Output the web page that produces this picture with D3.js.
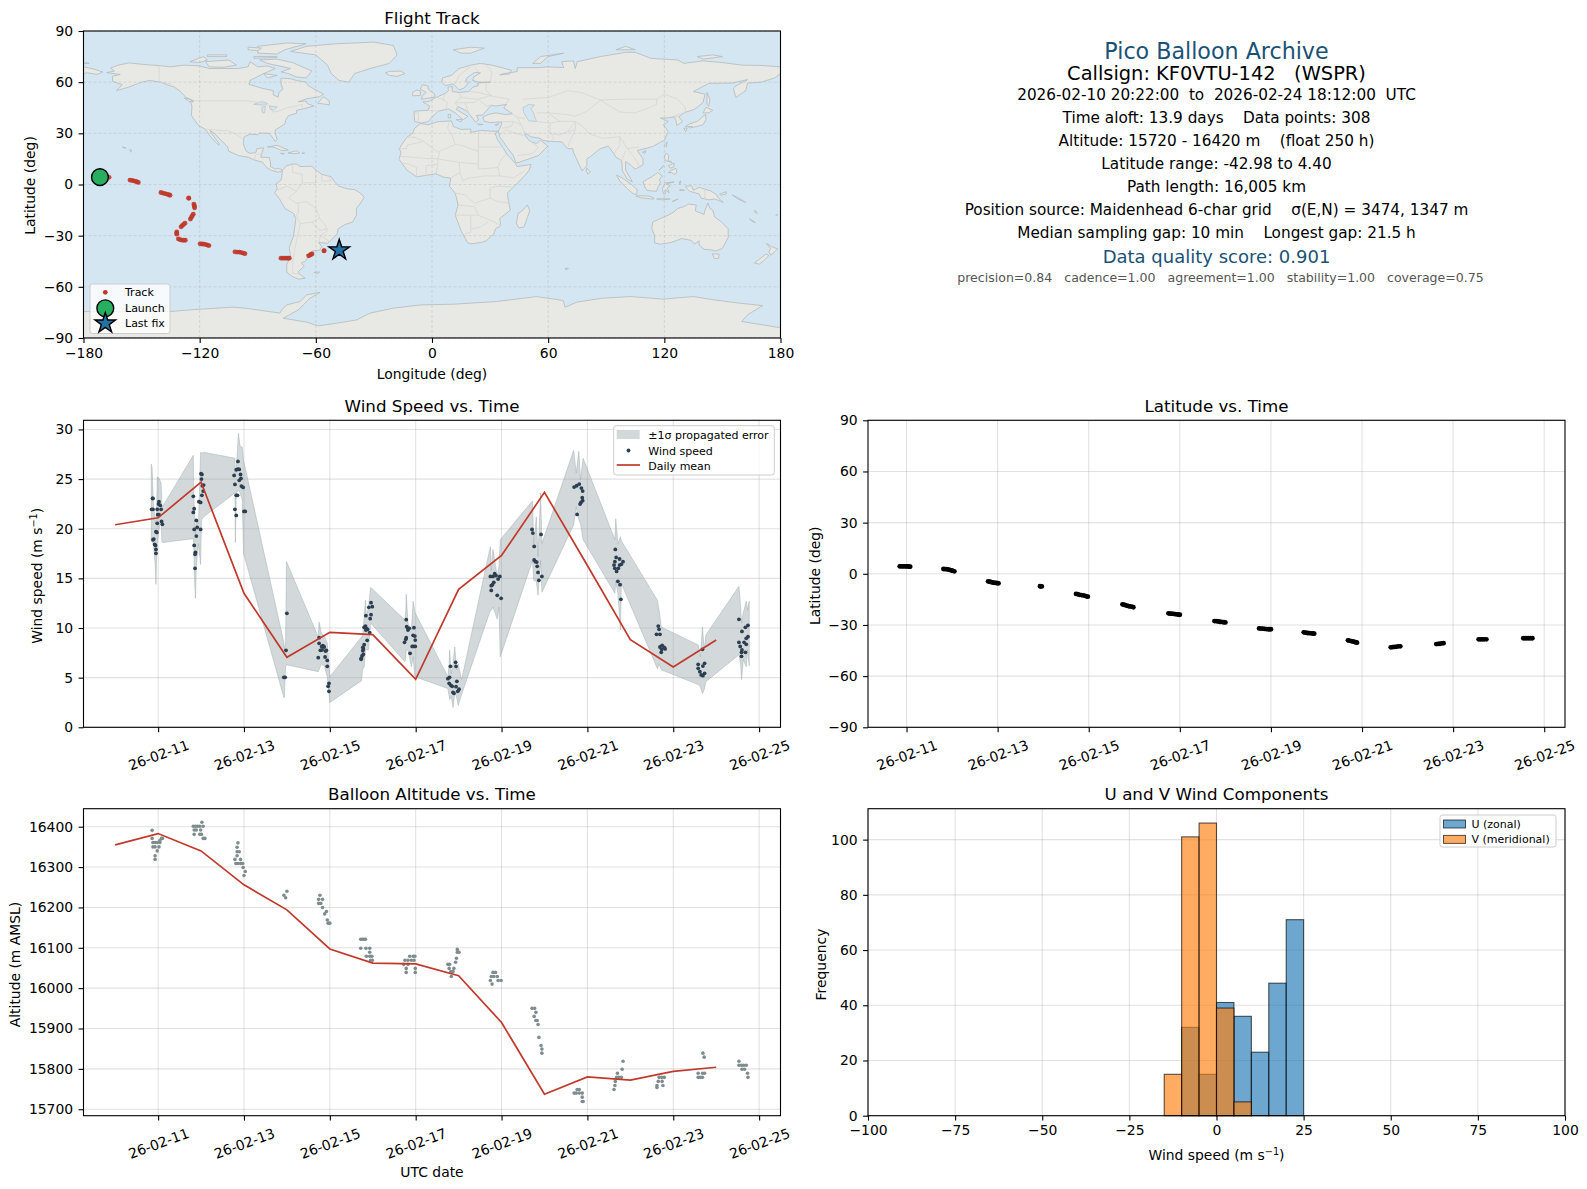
<!DOCTYPE html>
<html>
<head>
<meta charset="utf-8">
<title>Pico Balloon Archive</title>
<script src="https://cdn.jsdelivr.net/npm/d3@7"></script>
<style>
  body { margin: 0; background: #fff; }
  text { font-family: "DejaVu Sans", sans-serif; fill: #000; }
</style>
</head>
<body>
<div id="chart"></div>
<script>
// ---------- data ----------
const dateTicks = [11, 13, 15, 17, 19, 21, 23, 25];

// flight track, lon/lat
const trackLon = [-171.5,-170,-169,-168,-166.8, -156,-155,-154,-153,-152.3,-151.7, -140,-139,-138,-137,-136,-135.3,
  -125.7,-125.6, -123,-122.8,-122.7,-122.6, -123.3,-123.8,-124.3,-124.8, -127.6,-128.3,-129,-129.6, -131.8,-131.9,-131.8,
  -131,-130.2,-129.4,-128.4,-127.4, -119.8,-118.8,-117.8,-116.8,-116,-115.2, -101.8,-100.6,-99.5,-98.5,-97.5,-96.6,
  -78,-77,-76,-75,-74.3,-73.7, -63.7,-63,-62.5,-62, -55.8,-55.7, -48.5,-47.9];
const trackLat = [4.4,4.4,4.4,4.3,4.2, 2.6,2.4,2.1,1.8,1.5,1.2, -4.7,-5,-5.3,-5.6,-6,-6.3,
  -7.9,-8.1, -11.5,-12.2,-13,-13.7, -17.4,-18.3,-19.3,-20.3, -22.7,-23.4,-24.1,-24.8, -27.8,-28.5,-29.1,
  -31.9,-32.3,-32.6,-32.7,-32.7, -34.8,-34.9,-35,-35.2,-35.5,-35.8, -39.5,-39.6,-39.6,-39.9,-40.2,-40.5,
  -43.2,-43.2,-43.2,-43.2,-43.2,-43.2, -41.8,-41.4,-41,-40.7, -38.9,-38.8, -38.4,-38.5];
const launchFix = [-171.5, 4.3];
const lastFix = [-47.9, -38.5];

// wind speed scatter (day of February, m/s)
const windDays = [
  10.87,10.88,10.85,10.88,10.98,11.07,11.02,11.01,11.05,11.02,10.99,11.08,10.98,11.10,10.95,10.97,10.90,10.88,10.92,10.94,10.95,10.95,
  12.00,12.02,12.01,12.06,12.03,12.05,12.02,11.82,11.95,11.99,11.84,11.82,11.89,11.84,11.91,11.99,11.89,11.84,11.87,11.86,11.86,
  12.86,12.82,12.86,12.89,12.92,12.77,12.93,12.89,12.79,12.94,12.98,12.82,12.85,12.79,13.00,13.03,12.82,
  14.00,13.98,13.93,13.96,
  14.75,14.75,14.84,14.81,14.87,14.78,14.82,14.90,14.92,14.73,14.89,14.94,14.94,14.96,14.98,14.98,
  15.96,15.91,15.99,15.84,15.96,15.94,15.83,15.81,15.80,15.85,15.88,15.84,15.93,15.87,15.80,15.77,15.78,15.77,15.78,15.75,15.73,15.73,
  16.78,16.79,16.96,16.82,16.82,16.85,16.94,16.98,16.78,16.77,16.99,16.74,16.92,16.95,16.99,16.87,
  17.93,17.81,17.94,17.79,17.75,17.78,17.96,17.82,17.85,17.94,18.01,17.98,17.87,17.89,
  18.84,18.74,18.80,18.96,18.87,18.92,18.82,18.76,18.79,18.76,18.90,18.99,
  19.71,19.73,19.92,19.76,19.76,19.79,19.82,19.83,19.85,19.94,19.87,
  20.69,20.75,20.81,20.86,20.89,20.88,20.89,20.85,20.83,20.76,
  21.65,21.67,21.75,21.64,21.83,21.62,21.75,21.79,21.64,21.72,21.68,21.71,21.76,21.78,
  22.65,22.67,22.61,22.69,22.74,22.79,22.69,22.73,22.81,22.72,
  23.68,23.58,23.73,23.69,23.58,23.62,23.65,23.69,23.73,
  24.53,24.60,24.74,24.68,24.74,24.70,24.53,24.65,24.70,24.56,24.60,24.59,24.68,24.59];
const windSpeeds = [
  23.05,23.05,21.95,21.95,21.95,21.95,22.72,22.48,22.35,21.41,21.41,20.74,20.54,20.44,19.70,19.63,18.96,18.89,18.42,18.32,17.92,17.52,
  25.54,25.47,25.00,24.40,24.33,23.79,23.36,23.26,22.72,22.65,22.01,21.64,20.84,19.93,20.13,19.93,19.26,18.32,17.62,17.42,16.01,
  26.78,25.94,26.00,25.97,25.47,25.37,25.07,24.87,24.46,24.30,24.16,23.36,23.36,21.95,21.74,21.74,21.34,
  11.48,7.75,5.03,5.03,
  9.03,8.46,8.22,8.15,8.09,7.75,7.79,7.68,7.75,7.01,7.08,6.74,6.14,4.13,4.43,3.62,
  12.55,12.08,12.15,11.24,11.34,10.94,10.20,10.07,10.07,9.97,9.87,9.80,9.53,8.76,8.32,8.05,7.89,7.72,7.35,7.18,6.95,6.85,
  10.84,10.13,10.03,9.97,9.80,9.97,9.26,9.19,9.03,8.86,8.79,8.56,8.15,8.15,8.15,7.45,
  6.54,6.14,6.14,5.03,4.90,4.43,4.63,4.23,4.13,4.09,3.83,3.62,3.52,3.42,
  15.47,15.20,15.20,15.20,15.27,14.93,14.60,14.26,14.36,13.79,13.29,12.99,
  19.93,19.56,19.43,18.22,16.85,16.68,16.64,16.21,15.60,15.20,14.80,
  24.19,24.33,24.50,24.09,23.79,23.12,22.82,22.65,22.48,21.44,
  17.92,17.11,16.95,16.68,16.68,16.34,16.34,16.41,16.01,16.01,15.70,14.70,14.36,12.89,
  10.20,9.87,9.36,9.36,8.26,8.05,8.09,7.85,7.89,7.55,
  7.85,6.34,6.44,6.17,5.94,5.60,5.27,5.20,5.44,
  10.87,9.66,10.27,10.07,9.13,8.96,8.56,8.56,8.36,8.15,7.79,7.55,7.55,7.15];

// propagated error band
const bandDays = [10.84,10.86,10.89,10.93,10.95,10.96,10.98,11.02,11.07,11.09,11.10,11.82,11.83,11.85,11.87,11.89,11.94,11.99,12.01,12.06,
  12.79,12.80,12.82,12.87,12.91,12.96,12.99,13.93,13.94,13.97,13.99,14.73,14.75,14.80,14.88,14.94,14.98,15.00,15.74,15.76,15.80,15.83,15.85,15.90,15.95,
  16.75,16.77,16.78,16.82,16.90,16.94,16.98,17.75,17.78,17.79,17.83,17.87,17.91,17.95,17.99,18.07,18.74,18.76,18.80,18.90,18.94,18.97,
  19.72,19.75,19.81,19.85,19.91,19.94,20.68,20.74,20.80,20.84,20.90,21.64,21.66,21.71,21.77,21.79,22.63,22.67,22.72,
  23.58,23.63,23.68,23.72,23.76,24.53,24.57,24.59,24.63,24.70,24.73,24.77];
const bandHigh = [26.5,26.2,22.6,20.9,20.5,20.9,25.2,25.1,24.6,22.4,22.2,27.4,23.6,21.2,19.2,20.9,20.5,27.7,27.6,27.7,
  27.1,25.2,25.9,29.6,28.3,28.2,26.9,8.5,7.8,8.5,16.7,9.1,10.6,9.5,9.1,8.5,6.4,5.1,9.1,9.1,11.1,12.8,11.1,12.1,14.1,
  10.8,11.8,13.4,10.5,9.8,12.7,11.6,5.1,6.4,7.8,5.4,6.4,8.1,5.8,6.4,4.8,18.2,15.8,17.9,15.2,16.2,18.9,
  22.8,18.5,21.2,17.2,23.6,18.5,27.9,25.6,27.8,24.9,27.1,18.9,21.0,18.5,19.2,18.8,12.8,11.8,10.1,
  8.3,7.1,10.1,7.8,9.3,14.2,12.1,10.5,11.5,12.7,11.8,12.7];
const bandLow = [18.9,18.7,18.4,16.5,14.4,16.5,18.5,19.9,20.9,18.7,18.6,19.0,18.5,14.7,13.0,16.2,18.5,16.4,20.9,21.2,
  23.6,18.6,23.6,23.9,23.6,22.9,17.5,3.0,3.0,6.1,6.3,5.6,5.8,6.4,6.1,5.1,3.4,2.5,4.7,5.8,6.1,7.8,7.8,7.8,10.5,
  6.6,7.1,7.8,7.8,6.1,7.1,5.1,3.9,3.1,2.8,3.1,2.0,3.4,3.1,2.2,3.3,11.8,11.8,12.1,10.9,12.1,7.1,
  16.8,14.8,14.7,13.3,16.8,13.6,20.4,22.2,20.9,20.5,18.9,13.5,14.7,13.5,9.8,14.5,5.9,6.4,5.8,
  4.3,4.1,3.4,3.8,4.6,7.3,6.4,4.8,6.8,6.1,7.8,6.2];

// daily means, one per day from Feb 10 to Feb 24
const meanDays = [10,11,12,13,14,15,16,17,18,19,20,21,22,23,24];
const meanWind = [20.4,21.1,24.7,13.5,7.05,9.56,9.33,4.83,13.9,17.3,23.66,16.3,8.83,6.07,8.79];
const meanAlt = [16355,16383,16340,16256,16194,16097,16062,16060,16031,15915,15737,15780,15772,15794,15804];

// latitude vs time
const latDays = [10.85,10.88,10.91,10.94,10.97,11.00,11.03,11.06,11.08, 11.81,11.84,11.87,11.90,11.93,11.96,11.99,12.02,12.05,
  12.79,12.82,12.85,12.88,12.91,12.94,12.97,13.00,13.02, 13.93,13.95,13.97, 14.72,14.76,14.80,14.84,14.88,14.92,14.95,14.98,
  15.74,15.77,15.80,15.84,15.87,15.90,15.94,15.98, 16.75,16.78,16.82,16.86,16.90,16.94,16.97,17.00,
  17.76,17.80,17.84,17.87,17.90,17.94,17.97,18.00, 18.74,18.78,18.82,18.86,18.90,18.94,18.97,19.00,
  19.72,19.76,19.80,19.84,19.88,19.92,19.95, 20.69,20.72,20.76,20.80,20.84,20.87,20.89,
  21.63,21.67,21.71,21.75,21.79,21.84, 22.63,22.67,22.71,22.75,22.79, 23.56,23.60,23.64,23.68,23.73, 24.54,24.58,24.62,24.66,24.70,24.74];
const latValues = [4.4,4.4,4.4,4.4,4.4,4.35,4.3,4.25,4.2, 2.8,2.75,2.7,2.6,2.4,2.2,2.0,1.7,1.45,
  -4.4,-4.6,-4.8,-5,-5.2,-5.3,-5.4,-5.5,-5.6, -7.3,-7.35,-7.4, -11.8,-12,-12.3,-12.5,-12.7,-12.9,-13.2,-13.4,
  -17.9,-18.1,-18.4,-18.7,-18.9,-19.1,-19.3,-19.6, -23.2,-23.3,-23.4,-23.5,-23.7,-23.8,-23.9,-24,
  -27.7,-27.8,-27.9,-28.1,-28.2,-28.3,-28.4,-28.5, -32,-32.1,-32.2,-32.3,-32.4,-32.5,-32.5,-32.5,
  -34.3,-34.5,-34.7,-34.8,-34.9,-35,-35.1, -39,-39.2,-39.5,-39.7,-40,-40.2,-40.4,
  -43.1,-43,-42.9,-42.8,-42.6,-42.5, -41.2,-41.1,-41,-40.8,-40.7, -38.4,-38.4,-38.4,-38.4,-38.4, -37.8,-37.8,-37.8,-37.8,-37.8,-37.8];

// altitude scatter
const altDays = [10.86,10.86,10.88,10.93,10.98,11.04,11.08,11.04,11.10,10.88,10.93,11.02,10.98,10.93,10.93,
  12.02,11.82,11.87,11.92,11.97,12.05,11.84,11.89,11.99,11.84,11.97,12.01,12.05,12.09,
  12.86,12.84,12.84,12.89,12.84,12.79,12.92,12.81,12.86,12.92,12.97,12.98,13.03,13.00,
  14.00,13.93,13.97,
  14.77,14.74,14.83,14.74,14.79,14.83,14.92,14.88,14.94,14.96,15.00,
  15.72,15.76,15.80,15.83,15.72,15.84,15.93,15.93,15.85,15.93,15.98,15.95,15.99,
  16.86,16.94,16.98,16.75,16.82,16.90,16.96,16.72,16.82,16.78,16.99,16.78,16.99,
  17.97,18.01,17.93,17.75,17.79,17.78,17.89,17.82,17.87,17.83,17.97,17.95,
  18.80,18.86,18.76,18.82,18.90,18.74,18.92,18.99,18.78,
  19.71,19.77,19.80,19.76,19.80,19.83,19.85,19.87,19.92,19.94,19.94,
  20.76,20.81,20.69,20.74,20.81,20.88,20.88,20.88,20.90,
  21.83,21.81,21.70,21.68,21.73,21.79,21.65,21.64,21.62,
  22.67,22.73,22.79,22.65,22.74,22.62,22.76,22.62,
  23.69,23.72,23.68,23.73,23.58,23.58,23.63,23.68,
  24.53,24.53,24.59,24.64,24.70,24.60,24.66,24.73,24.74];
const altValues = [16391,16371,16361,16361,16361,16361,16371,16366,16371,16350,16350,16350,16340,16328,16319,
  16411,16401,16401,16401,16401,16401,16392,16392,16392,16381,16381,16381,16371,16371,
  16360,16349,16338,16338,16328,16319,16319,16309,16309,16309,16309,16299,16289,16279,
  16240,16230,16224,
  16230,16220,16220,16210,16210,16200,16190,16184,16169,16161,16161,
  16121,16121,16121,16121,16099,16099,16099,16089,16079,16079,16079,16069,16069,
  16079,16079,16079,16069,16069,16069,16069,16059,16059,16049,16049,16039,16039,
  16096,16089,16064,16059,16059,16049,16049,16041,16041,16029,16089,16074,
  16039,16039,16029,16029,16029,16019,16019,16019,16010,
  15950,15950,15940,15930,15920,15920,15910,15878,15858,15849,15839,
  15749,15749,15740,15740,15740,15740,15730,15719,15719,
  15819,15799,15789,15779,15779,15779,15769,15759,15749,
  15779,15779,15779,15769,15769,15759,15759,15754,
  15839,15829,15789,15789,15789,15779,15779,15779,
  15819,15809,15809,15809,15809,15799,15799,15789,15779];

// wind component histogram
const binStarts = [-15,-10,-5,0,5,10,15,20];
const binWidth = 5;
const uCounts = [0,32,15,41,36,23,48,71];
const vCounts = [15,101,106,39,5,0,0,0];

// info panel
const infoLines = [
  ["Pico Balloon Archive", 22.2, "#1a5276", 59, 1216.5],
  ["Callsign: KF0VTU-142   (WSPR)", 19.4, "#000", 80, 1216.5],
  ["2026-02-10 20:22:00  to  2026-02-24 18:12:00  UTC", 15.25, "#000", 100, 1216.5],
  ["Time aloft: 13.9 days    Data points: 308", 15.28, "#000", 123, 1216.5],
  ["Altitude: 15720 - 16420 m    (float 250 h)", 15.28, "#000", 146, 1216.5],
  ["Latitude range: -42.98 to 4.40", 15.28, "#000", 169, 1216.5],
  ["Path length: 16,005 km", 15.28, "#000", 192, 1216.5],
  ["Position source: Maidenhead 6-char grid    σ(E,N) = 3474, 1347 m", 15.28, "#000", 215, 1216.5],
  ["Median sampling gap: 10 min    Longest gap: 21.5 h", 15.28, "#000", 238, 1216.5],
  ["Data quality score: 0.901", 18, "#1a5276", 263, 1216.5],
  ["precision=0.84   cadence=1.00   agreement=1.00   stability=1.00   coverage=0.75", 12.55, "#555", 282, 1220.5]
];

// coastlines as lon/lat rings
const landRings = [
  // North America
  [[-168,65.6],[-164,66.5],[-166,68.3],[-162,70],[-156.5,71.3],[-150,70.5],[-141,69.7],[-135,69],[-128,70],[-120,69.5],[-115,68],[-108,68],[-100,68],[-95,69],[-94,72],[-90,69],[-85,69.5],[-81,68],[-87,65],[-94,61],[-94.5,58.7],[-88,56.5],[-82,55],[-82,52.5],[-79.5,51.2],[-79,54],[-77,56],[-78,59],[-78,62.4],[-73,62],[-70,61],[-65,60],[-64,58],[-61,56],[-56,53],[-58,51.5],[-65,50.2],[-69,48.5],[-65,49],[-64.5,47.5],[-61,46],[-66,44.5],[-70,43.5],[-70,41.7],[-74,40.5],[-75.5,38],[-76,35.5],[-78,34],[-81,32],[-81,30],[-80,26.5],[-81,25.2],[-82.7,28],[-84,30],[-89,30.2],[-90,29.2],[-94,29.5],[-97,28],[-97.5,24],[-96,19.5],[-94,18.2],[-91,18.7],[-90.5,21],[-87,21.5],[-88,18],[-88.5,16],[-84,15.8],[-83.3,12],[-83.5,10.5],[-81,9],[-79.5,9.5],[-77.3,8.5],[-78,7.5],[-80,7.3],[-83,8.3],[-85.5,10],[-87.5,13],[-92,14.5],[-95,16],[-100,17],[-105,19.5],[-105.5,22],[-109,26],[-112.5,30],[-114.7,31.7],[-113,28.5],[-110,24],[-110,23],[-112,25],[-115,29],[-117.2,32.5],[-120.5,34.5],[-122.5,37.5],[-124.3,40.5],[-124,46],[-124.7,48.4],[-123,49],[-127,51],[-130,54.5],[-133,57],[-137,58.5],[-140,60],[-146,61],[-150,60],[-153,58.7],[-157,57],[-163,55],[-160,58.5],[-165,60.5],[-165,63.5],[-161,64.5],[-168,65.6]],
  // South America
  [[-77.3,8.5],[-75,11],[-72,12],[-70,12],[-68,10.5],[-62,10.7],[-60,8.5],[-57,6],[-52,4.5],[-50,1],[-48,-1],[-44,-2.5],[-40,-3],[-37,-5],[-35,-7.5],[-37,-11],[-39,-14],[-39,-18],[-41,-22],[-45,-23.5],[-48.5,-26],[-49,-29],[-52,-32.5],[-54,-34.5],[-58.5,-34],[-57,-36.5],[-58,-38.5],[-62,-39],[-62.5,-41],[-65,-41],[-64,-42.5],[-65.5,-45],[-67.5,-46],[-66,-48],[-69,-51],[-68.5,-52.5],[-65.5,-55],[-69,-55.5],[-72,-54],[-75,-51.5],[-75,-47],[-73,-42],[-73.7,-37],[-71.5,-30],[-70.3,-20],[-71.5,-17],[-76,-14],[-79,-8],[-81.3,-5],[-80,-2.5],[-80.5,0.5],[-78,2.5],[-77.5,5],[-77.3,8.5]],
  // Africa
  [[-5.8,35.8],[-2,35],[3,36.8],[10,37.3],[11,34],[15,32.3],[20,32.5],[20,30.5],[25,31.7],[32,31.2],[34.3,31.3],[32.6,29.8],[34,26],[37,21],[38.5,18],[41,15],[43.3,12],[44,10.5],[51.2,11.8],[50,8],[47,4],[42,-1.5],[39,-5],[39.5,-10],[40.5,-15],[35,-20],[35.5,-24],[32.8,-26],[32,-29],[28,-33],[25.5,-34],[20,-34.8],[18.3,-34],[15,-27],[12,-18],[13.5,-12],[12,-5],[9,-1],[9.7,3.8],[6,4.3],[2,6.3],[-4,5.2],[-8,4.5],[-13,8.5],[-17,14.7],[-16,19],[-17,21],[-13,27.7],[-10,30],[-9,33],[-5.8,35.8]],
  // Eurasia
  [[-9,37],[-9.3,43],[-2,43.5],[-1.2,46],[-4.7,48.4],[-1.5,48.7],[2,51],[4,52],[7,53.5],[8.5,55],[8.2,57],[10.5,57.5],[10.5,54.5],[14,54],[19,54.5],[21,57],[24,58],[23.5,59.5],[30,60],[24,60],[21,61],[21.5,63],[25,65.5],[22,65.7],[18,62.5],[17.3,60.5],[19,59.8],[16.5,56.5],[14,55.5],[11,59],[7,58],[5,60],[5.5,62.5],[10,64],[14,68],[20,70],[25,71],[31,70],[41,67],[40,64.8],[35,64.3],[37,65],[44,66.2],[44,68.5],[54,68.5],[60,69],[68,68.5],[67,72],[73,72.5],[74,68],[75,72],[81,73.5],[87,75],[100,77.5],[105,77.5],[113,74],[127,73],[130,71],[140,72.5],[150,71.5],[160,70],[170,69.8],[180,69],[180,65],[177,62.5],[170,60],[163,59.5],[162,55],[157,51],[155.7,56],[156.5,57.5],[163,61.5],[155,59.5],[143,59.3],[135,54.5],[141,53],[140,48],[135.5,44],[130.7,42.3],[127.5,39.7],[129.3,37],[126.5,34.5],[126,37.5],[125,39.7],[121.5,39],[118,39],[122,37],[119.5,35],[122,31],[120,26],[114,22.3],[110,21],[106,20],[109,15],[109,11.5],[105,9],[103,11],[100,13.5],[100,8.5],[103.5,1.5],[101,3],[98.3,8],[98,14],[95,16],[94,18],[91,22.5],[87,21],[82,16.5],[80,15],[80,11],[77.5,8],[73,19],[72.7,21],[70,21],[67,25],[60,25.3],[57,26],[56,27],[51,28],[48.5,30],[48,29],[50,26],[51.5,25],[54,24],[56,26],[59.8,22.5],[55,17],[45,13],[43.3,12.8],[42,17],[39,21.5],[35,28],[34.3,31.3],[35.8,35],[36,36.7],[30,36.3],[27,37],[26.2,39.5],[29,41],[33,42],[38,41],[41.5,41.5],[37,45],[38.5,47],[33,46],[30.5,46.5],[28,43],[26,40.7],[23,40.5],[24,38],[22.5,36.5],[19.5,41],[18,43],[13.5,45.7],[12.5,44],[18.5,40],[16,38],[12,42],[8.5,44.3],[3.2,43],[0,39.5],[-2,36.8],[-5.5,36],[-9,37]],
  // Chukotka past the date line
  [[-180,69],[-175,67.8],[-170,66],[-173,64.5],[-178,65.5],[-180,65]],
  // Australia and nearby
  [[114,-22],[113.5,-26],[115,-30],[115,-34.3],[118,-35],[123.5,-34],[129,-31.7],[134,-32.8],[135.5,-34.9],[138,-33],[138,-35.5],[140.5,-38],[144,-38.3],[146.5,-39],[150,-37.5],[153,-31],[153,-26],[149.5,-22],[146,-19],[145,-15],[143.5,-14],[142.5,-10.8],[141,-15],[140.5,-17.5],[136,-15.5],[136.5,-12],[132.5,-11.5],[130,-13],[127,-14],[125,-16],[122,-18],[117,-20.5],[114,-22]],
  [[144.7,-40.7],[148.3,-40.8],[148,-43.3],[146,-43.5]],
  [[172.7,-34.5],[175.5,-36.5],[178.5,-37.7],[177,-39.5],[175,-41.5],[174,-39.5],[174.8,-37.5]],
  [[172.5,-40.7],[174,-41.7],[171,-45],[169,-46.7],[166.5,-46],[170,-43]],
  // Greenland and the Arctic
  [[-73,78],[-65,81],[-50,82.5],[-30,83.5],[-20,81.5],[-18,76],[-22,71],[-32,68],[-40,65],[-43,60],[-48,61],[-52,65],[-54,70],[-60,76]],
  [[-80,73.5],[-72,71.5],[-67,69],[-62,66.5],[-65,62.5],[-70,63],[-74,65],[-78,66],[-73,68],[-85,71],[-89,73]],
  [[-117,72],[-105,73],[-101,70],[-108,68.7],[-115,69]],
  [[-125,72],[-118,75],[-116,73],[-120,71.5]],
  [[-90,77],[-80,76.5],[-76,79],[-65,82.5],[-75,83],[-90,81]],
  [[-92,75],[-80,75],[-80,74.5],[-92,74]],
  [[-116,76],[-106,76],[-106,75],[-116,75]],
  [[-95,80.5],[-88,80],[-90,78.5],[-95,79]],
  [[-87,65],[-80,64],[-85,62.5]],
  [[-59,47.7],[-53,46.7],[-53,49],[-56,51.5]],
  [[-128,50.7],[-125,50],[-123.5,48.4],[-125.5,48.8]],
  [[-24,65.5],[-22,64],[-18,63.4],[-14,65],[-16,66.5],[-22,66.3]],
  [[11,79],[20,80.5],[27,80],[20,77],[15,77]],
  [[52,71],[56,75],[68,77],[60,75],[56,71]],
  [[95,79],[105,79],[100,81]],
  [[137,75],[145,76],[150,75],[140,73.5]],
  [[-180,71],[-178,71.5],[-177,71]],
  // Caribbean, Hawaii
  [[-85,22],[-80,23],[-74.2,20.2],[-77.5,19.9],[-82,22]],
  [[-74.4,18.5],[-70,19.8],[-68.4,18.5],[-71,18]],
  [[-78.3,18.3],[-76.3,18.2],[-77,17.8]],
  [[-67.2,18.5],[-65.7,18.4],[-66.5,18]],
  [[-156,20.8],[-155,19.7],[-155.7,19]],
  [[-160,22],[-158,21.5],[-159,21.3]],
  // Europe and Asia islands
  [[-5.5,50],[1.3,51.2],[1.5,52.8],[-2,56],[-2,57.7],[-5,58.5],[-6,56],[-3,54],[-5,52]],
  [[-10,52],[-6,52.2],[-6,55],[-8,55.3],[-10,54]],
  [[12.5,38],[15.5,38.2],[15,36.7]],
  [[8.3,41],[9.7,41],[9.5,39],[8.5,39]],
  [[23.5,35.5],[26.3,35.2],[24,35]],
  [[32.5,35],[34.5,35.6],[33.5,34.6]],
  [[142,54],[143.5,50],[143,46],[142,47]],
  [[130.9,34],[135,33.5],[140,35],[141.5,38],[141.3,41],[140,40],[137,37],[133,35.5]],
  [[140,42],[141.5,45.3],[145,43.5],[143,42]],
  [[130,33],[131.8,33],[131,31]],
  [[132.5,34],[134.5,34],[133.5,33]],
  [[120,23],[121.5,25],[121,22]],
  [[108.7,19],[110.5,20],[110,18.3]],
  [[120,16],[121,18.5],[122.3,17],[122,14],[124,13],[120.5,14]],
  [[122,7],[124,8.5],[126,9.5],[126.5,7],[125,5.8],[124,7]],
  [[122,11],[125,12.5],[125,10.5],[123,9.5]],
  [[117.2,8.4],[119.5,11],[119,10]],
  [[109,1.5],[111,3],[113.5,4.5],[116.5,7],[119,5],[117.5,3],[118,1],[116.5,-2],[116,-4],[111,-3.5],[110,-1.5]],
  [[95.3,5.5],[98,4],[103,0],[106,-3],[105.8,-5.8],[104,-5.5],[100.5,-2],[97,2]],
  [[105.3,-6.8],[108,-6.5],[112,-6.8],[114.5,-7.8],[114.3,-8.6],[108,-7.8]],
  [[119.5,-5.5],[119,-2.5],[120.5,1],[125,1.5],[121,0.3],[123,-1],[121.5,-2],[122.5,-5],[120.5,-3],[120.5,-5.5]],
  [[124,-10],[127,-8.5],[125,-9.7]],
  [[116,-8.5],[119,-8.3],[123,-8.5],[119,-9]],
  [[128,-3],[130.5,-3.3],[128,-3.6]],
  [[127.6,1.5],[128.6,2],[128,0]],
  [[131,-1],[134,-0.8],[135,-3.3],[138,-1.7],[144,-3.8],[147,-6],[148,-8],[150.5,-10.5],[146,-8.5],[143,-9],[139,-8],[138,-5.5],[133,-4],[132,-2.8]],
  [[148.5,-5.7],[152,-4.2],[152,-5.5],[149.5,-6.3]],
  [[155,-6],[160,-9],[162,-10.5],[158,-8.5]],
  [[167,-15],[168,-17],[166.5,-16]],
  [[164,-20],[167,-22.3],[165,-21.5]],
  [[177.5,-18],[178.5,-17.5],[178,-18.3]],
  [[80,9.7],[81.8,7.3],[80.5,6],[79.7,8]],
  // Southern Ocean
  [[49.3,-12],[50.5,-15.5],[47.5,-24.9],[45,-25.5],[43.5,-23],[44.5,-17],[47,-15]],
  [[69,-49],[70.5,-49.3],[69,-50]],
  [[-61,-51.5],[-58,-51.3],[-59,-52.3]],
  // Antarctica
  [[-180,-74.5],[-135.3,-74.5],[-125,-73.5],[-102.7,-71.9],[-96.6,-72.5],[-78.5,-75.4],[-77.6,-73.5],[-75.1,-70.6],[-68.2,-68.6],[-64.7,-64.7],[-57.9,-63.3],[-63,-66.7],[-66.5,-70.6],[-69,-73.5],[-76.8,-78.4],[-64.7,-80.7],[-58.7,-82.9],[-49.2,-81.3],[-38.9,-79.4],[-32,-75.4],[-20,-72.5],[-6,-70.6],[11,-70.2],[33.4,-68.6],[54,-65.7],[67.8,-68],[68.7,-72],[74.7,-69],[87.6,-66.7],[102.3,-65.7],[119.5,-67.2],[135,-65.7],[145.4,-67.6],[159,-69.6],[170.8,-71],[163,-76.4],[160,-80.3],[180,-84],[180,-90],[-180,-90]]
];
const lakeRings = [
  [[47,45],[50,47],[53,46.5],[51,44.5],[52.5,42],[53,40],[54,37],[50,37.3],[49,39],[47.5,42]],
  [[-92,47],[-88,48.7],[-85,47.5],[-87,46.5]],
  [[-88,45],[-86,46],[-86.5,42],[-87.5,42]],
  [[-84,46],[-80,45.5],[-82,43.5],[-83.5,44]]
];
const borderLines = [
  [[-123,49],[-95,49],[-89,48],[-83,46],[-82.5,42.5],[-79,43],[-75,45],[-70,46],[-67,47],[-67,45]],
  [[-141,69.7],[-141,60],[-135,59],[-130,55]],
  [[-117,32.5],[-108,31.5],[-106,31.7],[-101,29.5],[-97.2,26]],
  [[-92,14.5],[-91,17.5],[-88.5,18]],
  [[-72,12],[-72,7],[-67,6],[-67,1],[-70,-4]],
  [[-60,8.5],[-60,5],[-60,1],[-67,1]],
  [[-57,6],[-57,2],[-52,2],[-54,5.7]],
  [[-70,-4],[-74,-8],[-70,-11],[-65,-10],[-60,-14],[-58,-20],[-55,-24],[-54,-27],[-57.5,-30],[-53,-33.5]],
  [[-70,-18],[-68,-23],[-70,-33],[-72,-45],[-72,-52],[-68.6,-52.5]],
  [[-69,-11],[-69,-17],[-70,-18]],
  [[-80.3,-3.5],[-75,-1],[-70,-4]],
  [[-58,-20],[-62,-22],[-68,-23]],
  [[-62,-22],[-58,-27],[-54.5,-26]],
  [[-58.5,-34],[-57.5,-30]],
  // Africa
  [[-13,27.7],[-8.7,27.7],[-4,25],[3,19],[12,23.5],[15,23],[24,19.5],[24,31.5]],
  [[24,22],[36.8,22]],
  [[-17,21],[-13,21],[-13,23],[-5,25]],
  [[9,37],[8,33],[10,30],[12,23.5]],
  [[-16,16.5],[-5,15.5],[3,15],[4,19]],
  [[3,15],[14,13],[14.5,7],[9.7,4]],
  [[2,6.3],[3,12],[3,15]],
  [[-8,4.5],[-8,10],[-12,12],[-16,12.5]],
  [[-3,5],[-3,11],[3,12]],
  [[14,13],[24,12],[24,19.5]],
  [[24,12],[24,9],[34,10],[36,15],[38.5,18]],
  [[34,10],[35,5],[42,4],[48,8]],
  [[14.5,7],[16,2],[18,3.5],[27,5],[35,5]],
  [[12,-5],[17,-6],[22,-11],[30,-8],[30,-2],[34,-1],[42,-1.5]],
  [[13.5,-12],[22,-13],[24,-18],[32,-22],[35.5,-24]],
  [[12,-18],[24,-18]],
  [[20,-18],[20,-28],[17,-29]],
  [[30,-8],[34,-10],[40,-11]],
  [[29,-22],[25,-25],[20,-26]],
  // Europe
  [[3,43],[-2,43.5]],[[-7,37],[-7,42],[-9,42]],
  [[3,51],[6,49.5],[8,48],[7,44]],
  [[7,53.5],[6,51],[6,49.5]],
  [[14,54],[15,51],[12,48],[13.5,45.7]],
  [[15,51],[24,50],[30,52],[40,50],[38,47]],
  [[24,50],[28,46],[30.5,46.5]],
  [[12,48],[17,48],[22,48],[24,50]],
  [[17,48],[19,42]],
  [[19,54.5],[24,54],[31,52]],
  [[28,60],[28,55],[31,52]],
  [[30,60],[31,66],[28,70]],
  [[12,59],[14,64],[20,69]],
  [[24,66],[22,69]],
  // Asia
  [[41.5,41.5],[44,39.5],[48,38.5]],[[44,39.5],[46,35],[48,30]],
  [[36,36.7],[42,37],[46,35]],[[36,33],[41,34],[42,37]],
  [[35,29],[38,32],[46,29],[48,29]],
  [[52,18],[55,22],[52,24]],[[44,17],[52,18]],
  [[54,37],[61,36],[61,31],[63,27],[61,25]],
  [[61,36],[66,37],[74,37],[70,31],[66,29],[61,30]],
  [[70,31],[74,32],[74,37]],[[70,21],[71,25],[74,32]],
  [[74,37],[79,33],[81,30],[88,27],[97,28],[97,23],[94,18]],
  [[97,28],[101,21],[107,22]],[[101,21],[105,15],[107,11]],[[100,20],[98,14]],
  [[47,50],[60,51],[70,55],[77,54],[87,49.5],[98,50],[107,50],[116,50],[120,53],[127,50],[131,45],[130.7,42.3]],
  [[87,49.5],[80,43],[74,40],[70,41],[60,42],[54,42]],
  [[87,49.5],[97,42.5],[105,42],[112,45],[116,47],[116,50]],
  [[60,42],[66,37]],[[127.5,39.7],[125,39.7]],[[130.7,42.3],[125,40]],
  [[141,-3],[141,-9]]
];

// ---------- layout ----------
const svg = d3.select("#chart").append("svg").attr("width", 1587).attr("height", 1189);
const font = { tick: 13.9, label: 13.9, title: 16.7, legend: 11 };
const gridColor = "#b0b0b0";
const left = { x0: 83.5, x1: 780.5 };
const right = { x0: 868, x1: 1565 };
const rows = { map: [338, 31], mid: [727.3, 420.3], low: [1115.7, 808.7] };

// shared scales
const xWide = d3.scaleLinear().domain([9.262, 25.498]).range([left.x0, left.x1]);
const xLat = d3.scaleLinear().domain([10.154, 25.456]).range([right.x0, right.x1]);

function axes(g, x, y, xTicks, yTicks, opts) {
    const o = opts || {};
    const [x0, x1] = x.range();
    const [yb, yt] = y.range();
    // grid first so it stays under the marks
    const grid = g.append("g").attr("stroke", gridColor).attr("stroke-opacity", o.gridOpacity || 0.36)
        .attr("stroke-width", o.gridWidth || 1.1).attr("stroke-dasharray", o.dash || null);
    grid.selectAll(".gx").data(xTicks).enter().append("line")
        .attr("x1", d => x(d)).attr("x2", d => x(d)).attr("y1", yb).attr("y2", yt);
    grid.selectAll(".gy").data(yTicks).enter().append("line")
        .attr("x1", x0).attr("x2", x1).attr("y1", d => y(d)).attr("y2", d => y(d));
    return function finish() {
        const xAxis = d3.axisBottom(x).tickValues(xTicks).tickSize(4.9).tickPadding(4.9).tickSizeOuter(0)
            .tickFormat(o.xFormat || d3.format("d"));
        const gx = g.append("g").attr("transform", `translate(0,${yb})`).call(xAxis);
        const gy = g.append("g").attr("transform", `translate(${x0},0)`)
            .call(d3.axisLeft(y).tickValues(yTicks).tickSize(4.9).tickPadding(5.5).tickSizeOuter(0).tickFormat(d3.format("d")));
        g.selectAll(".tick line").attr("stroke", "#000").attr("stroke-width", 1.1);
        g.selectAll(".domain").remove();
        gx.selectAll("text").style("font-size", font.tick + "px").style("font-family", null);
        gy.selectAll("text").style("font-size", font.tick + "px").style("font-family", null);
        if (o.rotate) {
            // rotated about the label's middle, like the original
            gx.selectAll("text")
                .attr("text-anchor", "middle")
                .attr("y", 27.7)
                .attr("dy", "0.36em")
                .attr("transform", "rotate(-20,0,27.7)");
        }
        g.append("rect").attr("x", x0).attr("y", yt).attr("width", x1 - x0).attr("height", yb - yt)
            .attr("fill", "none").attr("stroke", "#000").attr("stroke-width", 1.1);
    };
}

function title(text, cx, y) {
    svg.append("text").attr("x", cx).attr("y", y).attr("text-anchor", "middle")
        .style("font-size", font.title + "px").text(text);
}

function yLabel(text, x, cy) {
    svg.append("text").attr("transform", `translate(${x},${cy}) rotate(-90)`)
        .attr("text-anchor", "middle").style("font-size", font.label + "px").text(text);
}

function clip(id, x, y) {
    svg.append("clipPath").attr("id", id).append("rect")
        .attr("x", x.range()[0]).attr("y", y.range()[1])
        .attr("width", x.range()[1] - x.range()[0]).attr("height", y.range()[0] - y.range()[1]);
}

function starPath(r) {
    let pts = [];
    for (let i = 0; i < 10; i++) {
        const rad = i % 2 ? r * 0.382 : r;
        const a = -Math.PI / 2 + i * Math.PI / 5;
        pts.push([rad * Math.cos(a), rad * Math.sin(a)]);
    }
    return d3.line()(pts) + "Z";
}

// ---------- flight track map ----------
{
    const x = d3.scaleLinear().domain([-180, 180]).range([left.x0, left.x1]);
    const y = d3.scaleLinear().domain([-90, 90]).range(rows.map);
    clip("clipMap", x, y);
    const g = svg.append("g");
    svg.append("filter").attr("id", "soft").append("feGaussianBlur").attr("stdDeviation", 0.35);
    g.append("rect").attr("x", left.x0).attr("y", rows.map[1])
        .attr("width", left.x1 - left.x0).attr("height", rows.map[0] - rows.map[1]).attr("fill", "#d4e6f1");
    const ring = d3.line().x(d => x(d[0])).y(d => y(d[1]));
    const base = g.append("g").attr("clip-path", "url(#clipMap)").append("g").attr("filter", "url(#soft)");
    base.selectAll(".land").data(landRings).enter().append("path")
        .attr("d", d => ring(d) + "Z").attr("fill", "#e8e8e4").attr("stroke", "#b4babc").attr("stroke-width", 0.8);
    base.selectAll(".lake").data(lakeRings).enter().append("path")
        .attr("d", d => ring(d) + "Z").attr("fill", "#d4e6f1").attr("stroke", "#b4babc").attr("stroke-width", 0.6);
    base.selectAll(".border").data(borderLines).enter().append("path")
        .attr("d", ring).attr("fill", "none").attr("stroke", "#d6d6d2").attr("stroke-width", 0.8);

    const finish = axes(g, x, y, d3.range(-180, 181, 60), d3.range(-90, 91, 30),
        { dash: "3,2", gridOpacity: 0.55, gridWidth: 0.7 });
    g.selectAll(".track").data(trackLon).enter().append("circle")
        .attr("cx", d => x(d)).attr("cy", (d, i) => y(trackLat[i])).attr("r", 2.4)
        .attr("fill", "#c0392b").attr("fill-opacity", 0.9);
    g.append("circle").attr("cx", x(launchFix[0])).attr("cy", y(launchFix[1])).attr("r", 8.4)
        .attr("fill", "#27ae60").attr("stroke", "#000").attr("stroke-width", 1.4);
    g.append("path").attr("transform", `translate(${x(lastFix[0])},${y(lastFix[1])})`).attr("d", starPath(10.8))
        .attr("fill", "#2471a3").attr("stroke", "#000").attr("stroke-width", 1.4);
    finish();

    // legend
    const lg = g.append("g");
    lg.append("rect").attr("x", 90).attr("y", 284).attr("width", 80).attr("height", 49.5).attr("rx", 2.5)
        .attr("fill", "#fff").attr("fill-opacity", 0.8).attr("stroke", "#ccc").attr("stroke-width", 1);
    lg.append("circle").attr("cx", 105.3).attr("cy", 292.3).attr("r", 2.4).attr("fill", "#c0392b");
    lg.append("circle").attr("cx", 105.3).attr("cy", 308.3).attr("r", 8.4).attr("fill", "#27ae60")
        .attr("stroke", "#000").attr("stroke-width", 1.4);
    lg.append("path").attr("transform", "translate(105.3,323.3)").attr("d", starPath(10.8))
        .attr("fill", "#2471a3").attr("stroke", "#000").attr("stroke-width", 1.4);
    ["Track", "Launch", "Last fix"].forEach((s, i) => {
        lg.append("text").attr("x", 125).attr("y", [296, 311.5, 326.5][i]).style("font-size", font.legend + "px").text(s);
    });

    title("Flight Track", 432, 24);
    svg.append("text").attr("x", 432).attr("y", 379).attr("text-anchor", "middle")
        .style("font-size", font.label + "px").text("Longitude (deg)");
    yLabel("Latitude (deg)", 35, 185.5);
}

// ---------- info panel ----------
infoLines.forEach(d => {
    svg.append("text").attr("x", d[4]).attr("y", d[3]).attr("text-anchor", "middle")
        .style("white-space", "pre")
        .style("font-size", d[1] + "px").style("fill", d[2]).text(d[0]);
});

const dateFormat = d => "26-02-" + d;

// ---------- wind speed ----------
{
    const y = d3.scaleLinear().domain([0, 30.92]).range(rows.mid);
    const g = svg.append("g");
    const finish = axes(g, xWide, y, dateTicks, d3.range(0, 31, 5), { rotate: true, xFormat: dateFormat });
    const area = d3.area().x(d => xWide(d)).y0((d, i) => y(bandLow[i])).y1((d, i) => y(bandHigh[i]));
    g.append("path").attr("d", area(bandDays)).attr("fill", "#95a5a6").attr("fill-opacity", 0.42)
        .attr("stroke", "#95a5a6").attr("stroke-opacity", 0.42).attr("stroke-width", 1);
    g.selectAll(".pt").data(windDays).enter().append("circle")
        .attr("cx", d => xWide(d)).attr("cy", (d, i) => y(windSpeeds[i])).attr("r", 1.9).attr("fill", "#2c3e50");
    g.append("path").datum(meanDays).attr("fill", "none").attr("stroke", "#c0392b").attr("stroke-width", 1.7)
        .attr("d", d3.line().x(d => xWide(d)).y((d, i) => y(meanWind[i])));
    finish();

    const lg = g.append("g");
    lg.append("rect").attr("x", 613.7).attr("y", 425.7).attr("width", 160.6).attr("height", 49.3).attr("rx", 2.5)
        .attr("fill", "#fff").attr("fill-opacity", 0.8).attr("stroke", "#ccc").attr("stroke-width", 1);
    lg.append("rect").attr("x", 616.7).attr("y", 430).attr("width", 23).attr("height", 9)
        .attr("fill", "#95a5a6").attr("fill-opacity", 0.42);
    lg.append("circle").attr("cx", 628.5).attr("cy", 450.5).attr("r", 1.9).attr("fill", "#2c3e50");
    lg.append("line").attr("x1", 616.7).attr("x2", 640).attr("y1", 465).attr("y2", 465)
        .attr("stroke", "#c0392b").attr("stroke-width", 1.7);
    ["±1σ propagated error", "Wind speed", "Daily mean"].forEach((s, i) => {
        lg.append("text").attr("x", 648.3).attr("y", [439, 454.5, 470][i]).style("font-size", font.legend + "px").text(s);
    });

    title("Wind Speed vs. Time", 432, 412);
    const t = svg.append("text").attr("transform", "translate(42,575.8) rotate(-90)").attr("text-anchor", "middle")
        .style("font-size", font.label + "px").text("Wind speed (m s");
    t.append("tspan").attr("dy", -5).style("font-size", "9.7px").text("−1");
    t.append("tspan").attr("dy", 5).text(")");
}

// ---------- latitude ----------
{
    const y = d3.scaleLinear().domain([-90, 90]).range(rows.mid);
    const g = svg.append("g");
    const finish = axes(g, xLat, y, dateTicks, d3.range(-90, 91, 30), { rotate: true, xFormat: dateFormat });
    g.selectAll(".pt").data(latDays).enter().append("circle")
        .attr("cx", d => xLat(d)).attr("cy", (d, i) => y(latValues[i])).attr("r", 2.4).attr("fill", "#000");
    finish();
    title("Latitude vs. Time", 1216.5, 412);
    yLabel("Latitude (deg)", 820, 575.8);
}

// ---------- altitude ----------
{
    const y = d3.scaleLinear().domain([15684, 16444.6]).range(rows.low);
    const g = svg.append("g");
    const finish = axes(g, xWide, y, dateTicks, d3.range(15700, 16401, 100), { rotate: true, xFormat: dateFormat });
    g.selectAll(".pt").data(altDays).enter().append("circle")
        .attr("cx", d => xWide(d)).attr("cy", (d, i) => y(altValues[i])).attr("r", 1.8).attr("fill", "#7f8c8d");
    g.append("path").datum(meanDays).attr("fill", "none").attr("stroke", "#c0392b").attr("stroke-width", 1.7)
        .attr("d", d3.line().x(d => xWide(d)).y((d, i) => y(meanAlt[i])));
    finish();
    title("Balloon Altitude vs. Time", 432, 800);
    yLabel("Altitude (m AMSL)", 20, 964.5);
    svg.append("text").attr("x", 432).attr("y", 1177).attr("text-anchor", "middle")
        .style("font-size", font.label + "px").text("UTC date");
}

// ---------- U and V histogram ----------
{
    const x = d3.scaleLinear().domain([-100, 100]).range([right.x0, right.x1]);
    const y = d3.scaleLinear().domain([0, 111.2]).range(rows.low);
    const g = svg.append("g");
    const finish = axes(g, x, y, d3.range(-100, 101, 25), d3.range(0, 101, 20));
    const series = [[uCounts, "#1f77b4"], [vCounts, "#ff7f0e"]];
    series.forEach(([counts, color]) => {
        g.append("g").selectAll("rect").data(binStarts.filter((d, i) => counts[i] > 0)).enter().append("rect")
            .attr("x", d => x(d))
            .attr("width", d => x(d + binWidth) - x(d))
            .attr("y", d => y(counts[binStarts.indexOf(d)]))
            .attr("height", d => y(0) - y(counts[binStarts.indexOf(d)]))
            .attr("fill", color).attr("fill-opacity", 0.65)
            .attr("stroke", "#000").attr("stroke-opacity", 0.65).attr("stroke-width", 1.1);
    });
    finish();

    const lg = g.append("g");
    lg.append("rect").attr("x", 1440).attr("y", 815).attr("width", 116).attr("height", 32).attr("rx", 2.5)
        .attr("fill", "#fff").attr("fill-opacity", 0.8).attr("stroke", "#ccc").attr("stroke-width", 1);
    [["U (zonal)", "#1f77b4"], ["V (meridional)", "#ff7f0e"]].forEach((d, i) => {
        const yy = 820 + i * 15.4;
        lg.append("rect").attr("x", 1443.5).attr("y", yy).attr("width", 22).attr("height", 8)
            .attr("fill", d[1]).attr("fill-opacity", 0.65).attr("stroke", "#000").attr("stroke-opacity", 0.65);
        lg.append("text").attr("x", 1471.5).attr("y", yy + 8).style("font-size", font.legend + "px").text(d[0]);
    });

    title("U and V Wind Components", 1216.5, 800);
    yLabel("Frequency", 826, 964.5);
    const t = svg.append("text").attr("x", 1216.5).attr("y", 1160).attr("text-anchor", "middle")
        .style("font-size", font.label + "px").text("Wind speed (m s");
    t.append("tspan").attr("dy", -5).style("font-size", "9.7px").text("−1");
    t.append("tspan").attr("dy", 5).text(")");
}
</script>
</body>
</html>
